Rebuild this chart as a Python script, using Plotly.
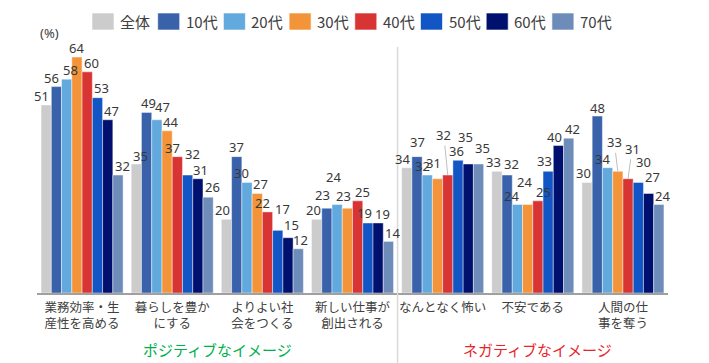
import plotly.graph_objects as go

# ---------------- data ----------------
categories = ["業務効率・生産性を高める", "暮らしを豊かにする", "よりよい社会をつくる",
              "新しい仕事が創出される", "なんとなく怖い", "不安である", "人間の仕事を奪う"]
tick_labels = ["業務効率・生<br>産性を高める", "暮らしを豊か<br>にする", "よりよい社<br>会をつくる",
               "新しい仕事が<br>創出される", "なんとなく怖い", "不安である", "人間の仕<br>事を奪う"]
series_names = ["全体", "10代", "20代", "30代", "40代", "50代", "60代", "70代"]

v_all = [51, 35, 20, 20, 34, 33, 30]
v_10s = [56, 49, 37, 23, 37, 32, 48]
v_20s = [58, 47, 30, 24, 32, 24, 34]
v_30s = [64, 44, 27, 23, 31, 24, 33]
v_40s = [60, 37, 22, 25, 32, 25, 31]
v_50s = [53, 32, 17, 19, 36, 33, 30]
v_60s = [47, 31, 15, 19, 35, 40, 27]
v_70s = [32, 26, 12, 14, 35, 42, 24]
series_values = [v_all, v_10s, v_20s, v_30s, v_40s, v_50s, v_60s, v_70s]

group_labels = ["ポジティブなイメージ", "ネガティブなイメージ"]

# ---------------- style ----------------
colors = ["#CCCCCC", "#3A62AA", "#62A9DE", "#F4943A", "#D93434", "#1256C5", "#00106F", "#6D8CB9"]

# label offsets in px (per category, per series), as placed in the original chart
label_dx = [
    [-4.5, -4.5, 3.5, 0, 4, 4, 3.5, 4.5],
    [4.5, 1.5, 5.5, 3.5, -4.5, 5, 2.5, 4],
    [-3.5, 0, -5, 3.5, -5, 5, 3.5, 2.5],
    [-3.5, -4, -3.5, -4, 5, -3.5, 4.5, 4.5],
    [-4.5, 0, -5, -4, -4, -2, -3, 4],
    [-3.5, 4, -6, -3, 6, -4, -4, 4],
    [-4, 0, -5, -3.5, 4, 5, 4, 4],
]
label_dy = [
    [9, 9, 9, 9, 9, 10, 9, 9],
    [8, 9, 13, 9, 9, 21, 9, 10],
    [9, 10, 9, 9, 9, 21, 13, 9],
    [9, 13, 28, 12, 9, 10, 9, 8],
    [9, 15, 9, 16, 40, 9, 27, 16],
    [9, 11, 9, 23, 9, 10, 9, 9],
    [9, 8, 9, 29, 30, 20, 16, 9],
]
leaders = {(4, 4), (6, 3), (6, 4)}

W, H = 709, 363
ML, MR, MT, MB = 37, 41, 35, 70
PW, PH = W - ML - MR, H - MT - MB
BARGAP = 0.09
n_series = len(series_names)
bar_w = (1 - BARGAP) / n_series


def px_x(px):
    return (px - ML) / PW


def px_y(py):
    return (H - MB - py) / PH


fig = go.Figure()
for j, (name, vals) in enumerate(zip(series_names, series_values)):
    fig.add_trace(go.Bar(
        name=name, x=list(range(len(categories))), y=vals,
        marker=dict(color=colors[j], line=dict(color="rgba(255,255,255,0.55)", width=0.8)),
        hoverinfo="name+y",
    ))

annotations = []
font_lbl = dict(family="Noto Sans, DejaVu Sans, sans-serif", size=13, color="#383838")
for j, vals in enumerate(series_values):
    for i, v in enumerate(vals):
        xc = i - (1 - BARGAP) / 2 + (j + 0.5) * bar_w
        lead = (i, j) in leaders
        annotations.append(dict(
            x=xc, y=v, xref="x", yref="y", text=str(v), font=font_lbl,
            showarrow=True, ax=label_dx[i][j], ay=-label_dy[i][j],
            arrowhead=0, arrowwidth=1, standoff=0, startstandoff=0,
            arrowcolor="#BFBFBF" if lead else "rgba(0,0,0,0)",
        ))

# (%) label
annotations.append(dict(x=px_x(49), y=px_y(33), xref="paper", yref="paper", text="(%)",
                        xanchor="center", yanchor="middle", showarrow=False,
                        font=dict(family="Noto Sans, sans-serif", size=13, color="#404040")))

# group labels
annotations.append(dict(x=px_x(217), y=px_y(349), xref="paper", yref="paper", text=group_labels[0],
                        xanchor="center", yanchor="middle", showarrow=False,
                        font=dict(family="Noto Sans CJK JP", size=15, color="#00B050")))
annotations.append(dict(x=px_x(537), y=px_y(349), xref="paper", yref="paper", text=group_labels[1],
                        xanchor="center", yanchor="middle", showarrow=False,
                        font=dict(family="Noto Sans CJK JP", size=15, color="#E7252A")))

shapes = [dict(type="line", xref="x", yref="paper", x0=3.5, x1=3.5, y0=px_y(363), y1=px_y(47),
               line=dict(color="#D9D9D9", width=1.5))]

# custom legend
leg_x0, leg_pitch, leg_y = 92, 65.7, 21.5
for j, name in enumerate(series_names):
    x0 = leg_x0 + j * leg_pitch
    shapes.append(dict(type="rect", xref="paper", yref="paper",
                       x0=px_x(x0), x1=px_x(x0 + 22), y0=px_y(leg_y + 8.5), y1=px_y(leg_y - 8.5),
                       fillcolor=colors[j], line=dict(color="rgba(255,255,255,0.6)", width=1)))
    annotations.append(dict(x=px_x(x0 + 26), y=px_y(leg_y), xref="paper", yref="paper", text=name,
                            xanchor="left", yanchor="middle", showarrow=False,
                            font=dict(family="Noto Sans CJK JP", size=15, color="#404040")))

fig.update_layout(
    width=W, height=H,
    margin=dict(l=ML, r=MR, t=MT, b=MB, autoexpand=False),
    paper_bgcolor="white", plot_bgcolor="white",
    barmode="group", bargap=BARGAP, bargroupgap=0,
    showlegend=False,
    annotations=annotations, shapes=shapes,
    xaxis=dict(tickmode="array", tickvals=list(range(len(categories))), ticktext=tick_labels,
               range=[-0.5, len(categories) - 0.5], automargin=False,
               showline=True, linecolor="#A0A0A0", linewidth=1.5, ticks="", showgrid=False,
               ticklabelstandoff=2,
               tickfont=dict(family="Noto Sans CJK JP", size=12.5, color="#404040")),
    yaxis=dict(range=[0, 70], visible=False, showgrid=False, zeroline=False, automargin=False),
)

fig.write_html("out.html", config={"displayModeBar": False},
               post_script="document.body.style.margin='0';document.body.style.overflow='hidden';")
